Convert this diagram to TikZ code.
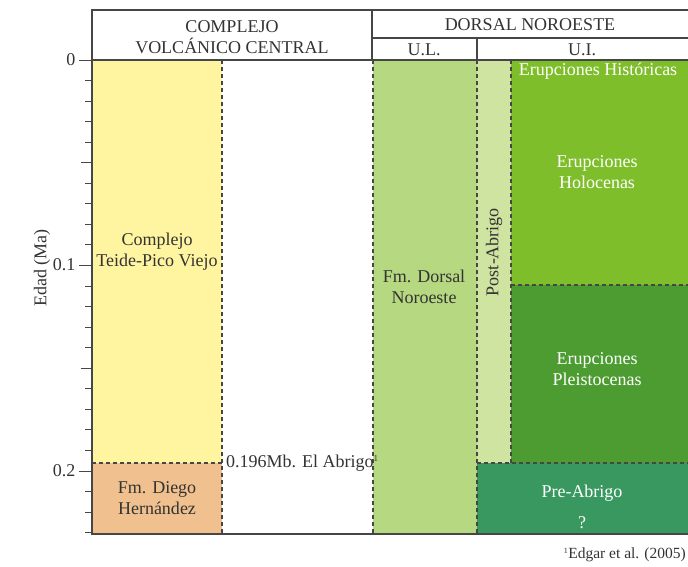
\documentclass[tikz,border=0pt]{standalone}
\usepackage{fontspec}
\setmainfont{Liberation Serif}

\definecolor{teide}{RGB}{255,245,160}
\definecolor{diego}{RGB}{240,192,142}
\definecolor{dorsal}{RGB}{182,216,128}
\definecolor{postab}{RGB}{206,228,160}
\definecolor{holoc}{RGB}{126,190,42}
\definecolor{pleist}{RGB}{76,156,50}
\definecolor{preab}{RGB}{56,152,96}
\definecolor{linea}{RGB}{70,70,70}

\tikzset{
    limite/.style={draw=linea, line width=1.3pt, dash pattern=on 4pt off 3pt},
    marco/.style={draw=linea, line width=1.4pt},
    cabecera/.style={text=black!80, font=\fontsize{18}{21}\selectfont, align=center},
    rotulo/.style={text=black!80, font=\fontsize{18}{21}\selectfont, align=center},
    blanco/.style={text=white, font=\fontsize{18}{21}\selectfont, align=center},
}

\begin{document}
\begin{tikzpicture}[x=1pt, y=-1pt]
        \def\ytop{60}
        \def\ysep{20.55}
        \useasboundingbox (0,0) rectangle (688,566);
    
        \foreach \xa/\ya/\xb/\yb/\col in {92/60/222/463/teide, 92/463/222/534/diego,
                373/60/477/534/dorsal, 477/60/511/463/postab, 511/60/688/285/holoc,
                511/285/688/463/pleist, 477/463/688/534/preab} {
            \fill[\col] (\xa,\ya) rectangle (\xb,\yb);
        }
    
        \draw[limite] (222,60) -- (222,534);
        \draw[limite] (92,463) -- (222,463);
        \draw[limite] (373,60) -- (373,534);
        \draw[limite] (477,60) -- (477,534);
        \draw[limite] (511,60) -- (511,463);
        \draw[limite] (511,285) -- (688,285);
        \draw[limite] (477,463) -- (688,463);
    
        \draw[marco] (688,10) -- (92,10) -- (92,534) -- (688,534);
        \draw[marco] (92,60) -- (688,60);
        \draw[marco] (372,10) -- (372,60);
        \draw[marco] (372,38) -- (688,38);
        \draw[marco] (477,38) -- (477,60);
    
        \foreach \i in {0,...,23} {
            \pgfmathsetmacro{\yt}{\ytop + \i*\ysep}
            \pgfmathsetmacro{\len}{ifthenelse(mod(\i,10)==0, 13, ifthenelse(mod(\i,5)==0, 11, 7))}
            \draw[linea, line width=1pt] (92,\yt) -- ++(-\len,0);
        }
        \node[rotulo, anchor=east] (t0) at (79,60) {0};
        \node[rotulo, anchor=east] (t1) at (79,265) {0.1};
        \node[rotulo, anchor=east] (t2) at (79,471) {0.2};
        \node[rotulo, rotate=90] (edad) at (42,268) {Edad (Ma)};
    
        \node[cabecera] (cvc) at (232,37) {COMPLEJO\\VOLCÁNICO CENTRAL};
        \node[cabecera] (dno) at (530,25) {DORSAL NOROESTE};
        \node[cabecera] (ul) at (424,50) {U.L.};
        \node[cabecera] (ui) at (582,50) {U.I.};
    
        \node[rotulo] (tpv) at (157,252) {Complejo\\Teide-Pico Viejo};
        \node[rotulo] (fdh) at (157,498) {Fm. Diego\\Hernández};
        \node[rotulo, anchor=west, inner sep=1pt] (abrigo) at (225,463) {0.196Mb. El Abrigo\textsuperscript{\fontsize{9}{9}\selectfont 1}};
        \node[rotulo] (fdn) at (424,287) {Fm. Dorsal\\Noroeste};
        \node[rotulo, rotate=90] (post) at (494,252) {Post-Abrigo};
    
        \node[blanco] (hist) at (598,71) {Erupciones Históricas};
        \node[blanco] (holo) at (597,172) {Erupciones\\Holocenas};
        \node[blanco] (pleis) at (597,369) {Erupciones\\Pleistocenas};
        \node[blanco] (pre) at (582,493) {Pre-Abrigo};
        \node[blanco] (interr) at (582,523) {?};
    
        \node[rotulo, anchor=east, inner sep=1pt, font=\fontsize{15.5}{18}\selectfont] (edgar) at (687,555) {\textsuperscript{\fontsize{8}{8}\selectfont 1}Edgar et al. (2005)};
    \end{tikzpicture}
\end{document}
